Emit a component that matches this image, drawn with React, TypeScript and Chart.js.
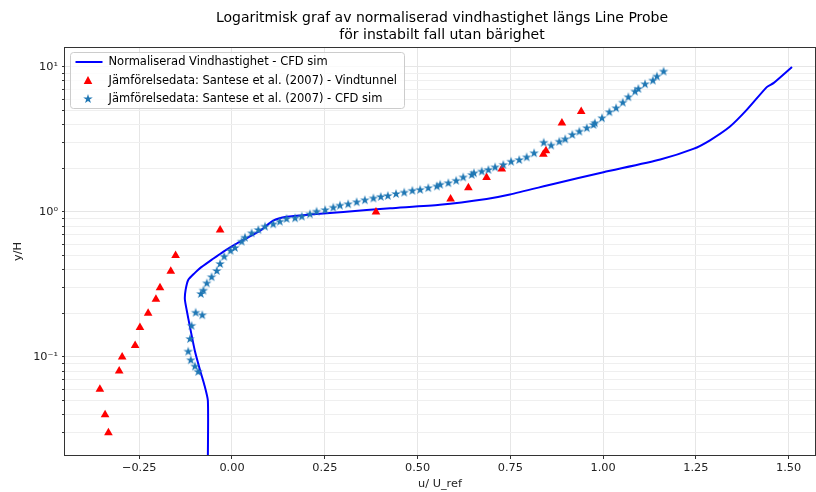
import React, { useEffect, useRef } from "react";
import { Chart, registerables } from "chart.js";
Chart.register(...registerables);

// ---- Data ----
const titleLines = [
  "Logaritmisk graf av normaliserad vindhastighet längs Line Probe",
  "för instabilt fall utan bärighet",
];
const seriesLabels = [
  "Normaliserad Vindhastighet - CFD sim",
  "Jämförelsedata: Santese et al. (2007) - Vindtunnel",
  "Jämförelsedata: Santese et al. (2007) - CFD sim",
];
const xLabel = "u/ U_ref";
const yLabel = "y/H";

const lineX = [-0.065, -0.065, -0.075, -0.086, -0.1, -0.113, -0.122, -0.127, -0.125, -0.118, -0.1, -0.086, -0.055, -0.023, 0.01, 0.04, 0.075, 0.111, 0.147, 0.21, 0.3, 0.426, 0.56, 0.686, 0.749, 0.866, 1.001, 1.154, 1.243, 1.288, 1.342, 1.387, 1.441, 1.459, 1.509];
const lineY = [0.02, 0.05, 0.065, 0.081, 0.11, 0.16, 0.21, 0.25, 0.29, 0.34, 0.38, 0.41, 0.467, 0.533, 0.6, 0.66, 0.74, 0.87, 0.925, 0.96, 1.0, 1.06, 1.12, 1.23, 1.32, 1.56, 1.88, 2.3, 2.72, 3.12, 3.88, 5.05, 7.25, 7.73, 10.0];

const tunnelX = [-0.333, -0.342, -0.356, -0.304, -0.296, -0.261, -0.248, -0.226, -0.205, -0.194, -0.165, -0.152, -0.032, 0.388, 0.589, 0.637, 0.686, 0.727, 0.839, 0.846, 0.889, 0.941];
const tunnelY = [0.03, 0.04, 0.06, 0.08, 0.1, 0.12, 0.16, 0.2, 0.25, 0.3, 0.39, 0.5, 0.75, 1.0, 1.23, 1.47, 1.73, 1.98, 2.5, 2.64, 4.1, 4.92];

const santeseX = [-0.091, -0.1, -0.111, -0.118, -0.113, -0.109, -0.098, -0.08, -0.084, -0.077, -0.068, -0.055, -0.041, -0.032, -0.021, -0.004, 0.008, 0.026, 0.035, 0.053, 0.071, 0.089, 0.111, 0.129, 0.147, 0.17, 0.188, 0.21, 0.228, 0.251, 0.273, 0.291, 0.313, 0.336, 0.358, 0.381, 0.401, 0.42, 0.442, 0.464, 0.486, 0.507, 0.529, 0.552, 0.561, 0.583, 0.604, 0.623, 0.646, 0.652, 0.673, 0.691, 0.709, 0.731, 0.752, 0.774, 0.794, 0.814, 0.84, 0.86, 0.882, 0.898, 0.917, 0.936, 0.956, 0.974, 0.978, 0.997, 1.017, 1.035, 1.053, 1.068, 1.086, 1.095, 1.113, 1.134, 1.145, 1.163];
const santeseY = [0.079, 0.086, 0.095, 0.109, 0.133, 0.164, 0.202, 0.194, 0.272, 0.287, 0.322, 0.355, 0.392, 0.438, 0.492, 0.54, 0.565, 0.624, 0.665, 0.713, 0.751, 0.792, 0.822, 0.857, 0.895, 0.904, 0.929, 0.964, 1.005, 1.03, 1.07, 1.106, 1.13, 1.167, 1.205, 1.24, 1.27, 1.29, 1.33, 1.36, 1.4, 1.42, 1.46, 1.5, 1.54, 1.58, 1.64, 1.73, 1.8, 1.85, 1.9, 1.95, 2.03, 2.11, 2.22, 2.28, 2.38, 2.54, 3.0, 2.87, 3.05, 3.17, 3.4, 3.58, 3.78, 3.98, 4.09, 4.43, 4.87, 5.19, 5.67, 6.18, 6.76, 7.05, 7.6, 8.05, 8.58, 9.29];

const xTicks = [-0.25, 0, 0.25, 0.5, 0.75, 1.0, 1.25, 1.5];
const yTicks = [0.03, 0.04, 0.05, 0.06, 0.07, 0.08, 0.09, 0.1, 0.2, 0.3, 0.4, 0.5, 0.6, 0.7, 0.8, 0.9, 1, 2, 3, 4, 5, 6, 7, 8, 9, 10];
const yMajorLabels: Record<string, string> = { "0.1": "10\u207B\u00B9", "1": "10\u2070", "10": "10\u00B9" };

const FONT = "'DejaVu Sans', sans-serif";
const BLUE = "#0000ff";
const RED = "#ff0000";
const STAR = "#1f77b4";

function makeStar(color: string, R: number) {
  const s = Math.ceil(R * 2 + 2);
  const c = document.createElement("canvas");
  c.width = s;
  c.height = s;
  const ctx = c.getContext("2d")!;
  ctx.fillStyle = color;
  ctx.beginPath();
  for (let i = 0; i < 10; i++) {
    const r = i % 2 === 0 ? R : R * 0.382;
    const a = -Math.PI / 2 + (i * Math.PI) / 5;
    ctx.lineTo(s / 2 + r * Math.cos(a), s / 2 + r * Math.sin(a));
  }
  ctx.closePath();
  ctx.fill();
  return c;
}

export default function App() {
  const ref = useRef<HTMLCanvasElement>(null);
  useEffect(() => {
    document.body.style.margin = "0";
    const starImg = makeStar(STAR, 5);

    const framePlugin = {
      id: "frame",
      afterDatasetsDraw(chart: any) {
        const { left, top, right, bottom } = chart.chartArea;
        const ctx = chart.ctx;
        ctx.save();
        ctx.strokeStyle = "#333";
        ctx.lineWidth = 1;
        ctx.strokeRect(Math.round(left) - 0.5, Math.round(top) - 0.5, Math.round(right - left) + 1, Math.round(bottom - top) + 1);
        ctx.restore();
      },
    };

    const titlePlugin = {
      id: "mtitle",
      afterDraw(chart: any) {
        const { left, right, top } = chart.chartArea;
        const ctx = chart.ctx;
        ctx.save();
        ctx.fillStyle = "#000";
        ctx.font = `14px ${FONT}`;
        ctx.textAlign = "center";
        ctx.textBaseline = "middle";
        const cx = (left + right) / 2 + 2;
        ctx.fillText(titleLines[0], cx, top - 30);
        ctx.fillText(titleLines[1], cx, top - 13);
        ctx.restore();
      },
    };

    const legendPlugin = {
      id: "mlegend",
      afterDraw(chart: any) {
        const { left, top } = chart.chartArea;
        const ctx = chart.ctx;
        const x0 = left + 5.5;
        const y0 = top + 4.5;
        const w = 334;
        const h = 56;
        ctx.save();
        ctx.fillStyle = "rgba(255,255,255,0.8)";
        ctx.strokeStyle = "#cccccc";
        ctx.lineWidth = 1;
        ctx.beginPath();
        ctx.roundRect(x0, y0, w, h, 3);
        ctx.fill();
        ctx.stroke();
        ctx.font = `11.5px ${FONT}`;
        ctx.textBaseline = "middle";
        ctx.textAlign = "left";
        const rows = [y0 + 9.5, y0 + 28, y0 + 46.5];
        const mx = x0 + 17.5;
        ctx.strokeStyle = BLUE;
        ctx.lineWidth = 2;
        ctx.beginPath();
        ctx.moveTo(x0 + 5, rows[0]);
        ctx.lineTo(x0 + 32, rows[0]);
        ctx.stroke();
        ctx.fillStyle = RED;
        ctx.beginPath();
        ctx.moveTo(mx, rows[1] - 4.5);
        ctx.lineTo(mx + 4.3, rows[1] + 3.5);
        ctx.lineTo(mx - 4.3, rows[1] + 3.5);
        ctx.closePath();
        ctx.fill();
        ctx.drawImage(starImg, mx - starImg.width / 2, rows[2] - starImg.height / 2);
        ctx.fillStyle = "#000";
        for (let i = 0; i < 3; i++) ctx.fillText(seriesLabels[i], x0 + 38, rows[i] + 0.5);
        ctx.restore();
      },
    };

    const chart = new Chart(ref.current!, {
      type: "scatter",
      data: {
        datasets: [
          {
            label: seriesLabels[0],
            data: lineX.map((x, i) => ({ x, y: lineY[i] })),
            showLine: true,
            borderColor: BLUE,
            backgroundColor: BLUE,
            borderWidth: 2,
            pointRadius: 0,
            tension: 0.2,
            order: 3,
          },
          {
            label: seriesLabels[1],
            data: tunnelX.map((x, i) => ({ x, y: tunnelY[i] })),
            pointStyle: "triangle",
            pointRadius: 5,
            backgroundColor: RED,
            borderColor: RED,
            borderWidth: 0,
            order: 2,
          },
          {
            label: seriesLabels[2],
            data: santeseX.map((x, i) => ({ x, y: santeseY[i] })),
            pointStyle: starImg as any,
            pointRadius: 5,
            backgroundColor: STAR,
            borderColor: STAR,
            order: 1,
          },
        ],
      },
      options: {
        responsive: false,
        animation: false,
        devicePixelRatio: 1,
        layout: { autoPadding: false, padding: { top: 48, right: 1, left: 0, bottom: 0 } },
        plugins: {
          legend: { display: false },
          title: { display: false },
          tooltip: { enabled: false },
        },
        scales: {
          x: {
            type: "linear",
            min: -0.45,
            max: 1.571,
            afterBuildTicks: (s: any) => {
              s.ticks = xTicks.map((v) => ({ value: v }));
            },
            afterFit: (s: any) => {
              s.height = 37;
              s.paddingLeft = 0;
              s.paddingRight = 0;
            },
            border: { display: false },
            grid: { color: "#e6e6e6", tickColor: "#333", tickLength: 4, lineWidth: 1 },
            ticks: {
              autoSkip: false,
              maxRotation: 0,
              padding: 2,
              color: "#222",
              font: { family: FONT, size: 11.3 },
              callback: (v: any) => Number(v).toFixed(2).replace("-", "\u2212"),
            },
            title: {
              display: true,
              text: xLabel,
              color: "#222",
              font: { family: FONT, size: 11.3 },
              padding: { top: 0, bottom: 1 },
            },
          },
          y: {
            type: "logarithmic",
            min: 0.0211,
            max: 13.5,
            afterBuildTicks: (s: any) => {
              s.ticks = yTicks.map((v) => ({ value: v }));
            },
            afterFit: (s: any) => {
              s.width = 65;
              s.paddingTop = 0;
              s.paddingBottom = 0;
            },
            border: { display: false },
            grid: {
              color: (c: any) => (yMajorLabels[String(c.tick?.value)] ? "#e6e6e6" : "#efefef"),
              tickColor: "#333",
              tickLength: 3,
              lineWidth: 1,
            },
            ticks: {
              autoSkip: false,
              padding: 4,
              color: "#222",
              font: { family: FONT, size: 11.3 },
              callback: (v: any) => yMajorLabels[String(v)] ?? "",
            },
            title: {
              display: true,
              text: yLabel,
              color: "#222",
              font: { family: FONT, size: 11.3 },
              padding: { top: 11, bottom: 0 },
            },
          },
        },
      },
      plugins: [framePlugin, titlePlugin, legendPlugin],
    });
    return () => chart.destroy();
  }, []);
  return <canvas ref={ref} width={816} height={492} style={{ display: "block" }} />;
}
